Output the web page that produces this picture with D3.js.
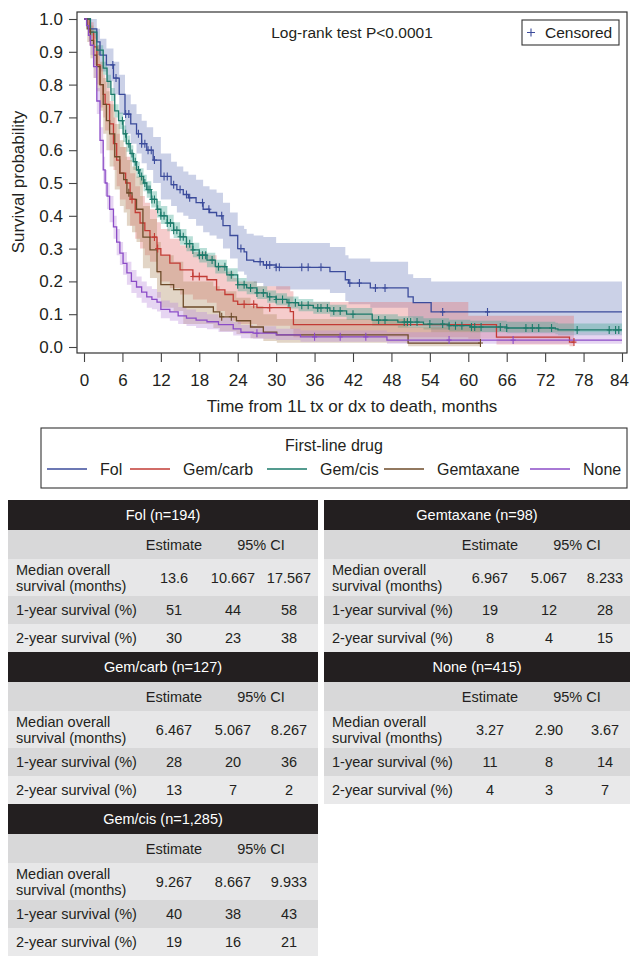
<!DOCTYPE html>
<html lang="en">
<head>
    <meta charset="utf-8">
    <title>First-line drug survival</title>
    <style>
        body{ margin:0; background:#fff; }
        svg text{ font-family:"Liberation Sans", Arial, Helvetica, sans-serif; fill:#231f20; }
    </style>
    <script src="https://cdn.jsdelivr.net/npm/d3@7"></script>
</head>
<body>
<div id="chart"></div>
<script>
    // 组别与颜色
    var groups = ["Fol", "Gem/carb", "Gem/cis", "Gemtaxane", "None"];
    var lineColors = ["#3b4b9b", "#c23b34", "#1b7a6a", "#6e4b2a", "#8b4cc7"];
    var bandColors = ["#6f80bd", "#e27171", "#3ea690", "#b08a60", "#b98bdc"];

    var xTicks = [0, 6, 12, 18, 24, 30, 36, 42, 48, 54, 60, 66, 72, 78, 84];
    var yTicks = [0, 0.1, 0.2, 0.3, 0.4, 0.5, 0.6, 0.7, 0.8, 0.9, 1.0];

    // Fol
    var fol_t  = [0,1,2,2.5,3.5,4.6,5.5,6.4,7.3,8.2,9,9.8,10.8,12,13.6,14.5,15.5,16.3,17.5,18.6,19.6,20.7,21.7,22.8,24,25,25.4,26.5,28,30,38.4,40.8,41.3,44.7,50.6,51.4,54.2,84];
    var fol_s  = [1,0.97,0.93,0.89,0.86,0.82,0.77,0.71,0.68,0.65,0.62,0.60,0.57,0.52,0.495,0.48,0.465,0.455,0.44,0.42,0.41,0.40,0.37,0.34,0.30,0.29,0.265,0.26,0.25,0.243,0.23,0.205,0.195,0.18,0.153,0.135,0.107,0.107];
    var fol_lo = [1,0.94,0.89,0.84,0.81,0.77,0.71,0.65,0.62,0.59,0.56,0.54,0.50,0.45,0.43,0.41,0.40,0.39,0.37,0.35,0.34,0.33,0.30,0.27,0.23,0.22,0.20,0.195,0.185,0.175,0.165,0.14,0.13,0.12,0.09,0.075,0.045,0.045];
    var fol_hi = [1,1,0.97,0.94,0.91,0.87,0.83,0.77,0.74,0.71,0.69,0.67,0.64,0.59,0.565,0.55,0.535,0.525,0.51,0.49,0.48,0.47,0.44,0.41,0.37,0.36,0.345,0.34,0.335,0.317,0.305,0.28,0.27,0.26,0.222,0.21,0.20,0.20];
    var fol_cens = [4.5,5,6.5,7,8.5,9,9.5,10,10.5,11,12.5,13,14,15,16,16.5,18.5,19.5,21.5,24.5,27.5,28.5,29,30,30.5,34,35,37,41.5,43,45.5,47,56,63];

    // Gem/carb
    var gcb_t  = [0,0.8,1.5,2,2.5,3,3.3,4,4.6,5.1,5.6,6.5,7.2,8,8.75,9.5,10.3,11.4,12,13.4,15,17,19.2,20.7,22,23.3,24,27,32.2,32.7,60,64.4,75.8,76.5];
    var gcb_s  = [1,0.96,0.915,0.86,0.80,0.77,0.74,0.68,0.62,0.57,0.53,0.50,0.45,0.41,0.378,0.355,0.335,0.30,0.28,0.256,0.235,0.215,0.205,0.174,0.16,0.14,0.13,0.12,0.108,0.068,0.068,0.03,0.015,0.015];
    var gcb_lo = [1,0.92,0.86,0.80,0.73,0.70,0.66,0.60,0.54,0.49,0.45,0.42,0.37,0.33,0.30,0.28,0.26,0.225,0.20,0.18,0.16,0.145,0.135,0.11,0.095,0.08,0.07,0.065,0.055,0.03,0.025,0.008,0.002,0.002];
    var gcb_hi = [1,0.99,0.96,0.91,0.86,0.83,0.81,0.75,0.70,0.65,0.61,0.58,0.53,0.49,0.46,0.44,0.42,0.38,0.36,0.33,0.31,0.29,0.28,0.25,0.23,0.21,0.20,0.185,0.17,0.137,0.095,0.095,0.095,0.095];
    var gcb_cens = [7.5,11,11.5,17,18,25,26.5,29,76.5];

    // Gem/cis
    var gcs_t  = [0,1,2,3,3.6,4.2,4.8,5.4,6.1,6.6,7.2,7.7,8.2,8.7,9.3,9.8,10.5,11.4,12,13,14,15,16,17,18,19.2,20.5,22.3,24,25.4,27,28.6,30,31.7,33.5,35.8,38.4,41,45,49,53,57,60.3,66,73.6,74,84];
    var gcs_s  = [1,0.96,0.905,0.85,0.81,0.77,0.72,0.69,0.65,0.62,0.59,0.565,0.54,0.52,0.50,0.48,0.45,0.42,0.40,0.378,0.356,0.336,0.315,0.296,0.28,0.265,0.245,0.22,0.19,0.18,0.165,0.153,0.145,0.135,0.127,0.119,0.11,0.10,0.082,0.076,0.07,0.065,0.061,0.058,0.055,0.052,0.052];
    var gcs_lo = [1,0.95,0.89,0.83,0.79,0.75,0.70,0.665,0.625,0.595,0.565,0.54,0.515,0.495,0.475,0.455,0.425,0.395,0.375,0.353,0.332,0.312,0.292,0.274,0.258,0.243,0.224,0.20,0.17,0.161,0.146,0.135,0.127,0.117,0.109,0.101,0.092,0.082,0.065,0.059,0.053,0.048,0.045,0.042,0.039,0.036,0.036];
    var gcs_hi = [1,0.97,0.92,0.87,0.83,0.79,0.74,0.715,0.675,0.645,0.615,0.59,0.565,0.545,0.525,0.505,0.475,0.445,0.43,0.403,0.38,0.36,0.338,0.318,0.302,0.287,0.266,0.24,0.21,0.20,0.185,0.172,0.164,0.154,0.146,0.138,0.129,0.119,0.10,0.094,0.088,0.083,0.08,0.077,0.074,0.072,0.072];
    var gcs_cens = [6,6.5,7,7.5,8,8.5,9,9.5,10,10.3,10.6,11,11.5,12,12.5,13,13.5,14,14.5,15,15.5,16,16.5,17,18,18.5,19,20,21,22,23,24,25,26,27,28,29,30,31,32,33,34,35,36.5,37,38,39,40,42,46,47,50,50.5,51,52,54,56,57,58,59,60.5,61,62,65,66,69,70,71,73,77,82,83,83.5];

    // Gemtaxane
    var gtx_t  = [0,0.5,1,1.5,2,2.5,3,3.5,4,4.8,5.6,6.2,6.7,7.5,8.2,9.2,10.3,11.4,12,14,15.5,20.2,21.2,23.8,26,28,30.1,50.6,61.9];
    var gtx_s  = [1,0.97,0.935,0.89,0.855,0.80,0.74,0.69,0.65,0.58,0.53,0.51,0.47,0.45,0.42,0.335,0.296,0.23,0.19,0.175,0.122,0.107,0.092,0.08,0.061,0.045,0.037,0.012,0.012];
    var gtx_lo = [1,0.93,0.88,0.82,0.78,0.72,0.65,0.60,0.55,0.48,0.43,0.41,0.37,0.35,0.32,0.24,0.21,0.15,0.12,0.11,0.07,0.058,0.048,0.04,0.027,0.018,0.013,0.002,0.002];
    var gtx_hi = [1,1,0.98,0.95,0.92,0.87,0.82,0.78,0.74,0.68,0.63,0.61,0.57,0.55,0.52,0.43,0.39,0.32,0.28,0.26,0.20,0.185,0.17,0.15,0.125,0.10,0.085,0.06,0.06];
    var gtx_cens = [7,21.5,23,61.9];

    // None
    var non_t  = [0,0.4,0.7,1,1.5,2,2.5,3,3.3,3.6,4,4.6,5.1,5.6,6.1,6.7,7.4,8.2,9,9.8,10.6,11.4,12,13.4,14.7,16,17.5,19.2,21,23.3,24.5,26.4,30,33.8,47.3,84];
    var non_s  = [1,0.98,0.95,0.92,0.855,0.75,0.63,0.54,0.50,0.46,0.42,0.366,0.32,0.286,0.255,0.226,0.20,0.183,0.167,0.153,0.145,0.137,0.115,0.107,0.095,0.088,0.082,0.077,0.068,0.055,0.045,0.042,0.037,0.031,0.021,0.021];
    var non_lo = [1,0.97,0.93,0.89,0.82,0.71,0.59,0.50,0.46,0.42,0.38,0.33,0.28,0.25,0.22,0.19,0.165,0.15,0.135,0.12,0.115,0.108,0.088,0.08,0.07,0.064,0.058,0.054,0.046,0.035,0.027,0.025,0.021,0.016,0.01,0.008];
    var non_hi = [1,0.99,0.97,0.95,0.89,0.79,0.67,0.58,0.54,0.50,0.46,0.40,0.36,0.32,0.29,0.26,0.235,0.215,0.20,0.185,0.177,0.168,0.142,0.135,0.122,0.114,0.107,0.1,0.09,0.076,0.067,0.063,0.056,0.05,0.045,0.045];
    var non_cens = [27,36,40,44,57,67];

    // 表格数据
    var tableTitles = ["Fol (n=194)", "Gem/carb (n=127)", "Gem/cis (n=1,285)", "Gemtaxane (n=98)", "None (n=415)"];
    var rowLabels = [["Median overall", "survival (months)"], ["1-year survival (%)"], ["2-year survival (%)"]];
    var fol_tab = [["13.6", "10.667", "17.567"], ["51", "44", "58"], ["30", "23", "38"]];
    var gcb_tab = [["6.467", "5.067", "8.267"], ["28", "20", "36"], ["13", "7", "2"]];
    var gcs_tab = [["9.267", "8.667", "9.933"], ["40", "38", "43"], ["19", "16", "21"]];
    var gtx_tab = [["6.967", "5.067", "8.233"], ["19", "12", "28"], ["8", "4", "15"]];
    var non_tab = [["3.27", "2.90", "3.67"], ["11", "8", "14"], ["4", "3", "7"]];

    var curves = [
        {t: fol_t, s: fol_s, lo: fol_lo, hi: fol_hi, c: fol_cens},
        {t: gcb_t, s: gcb_s, lo: gcb_lo, hi: gcb_hi, c: gcb_cens},
        {t: gcs_t, s: gcs_s, lo: gcs_lo, hi: gcs_hi, c: gcs_cens},
        {t: gtx_t, s: gtx_s, lo: gtx_lo, hi: gtx_hi, c: gtx_cens},
        {t: non_t, s: non_s, lo: non_lo, hi: non_hi, c: non_cens}
    ];
    var tables = [fol_tab, gcb_tab, gcs_tab, gtx_tab, non_tab];

    var svg = d3.select("#chart").append("svg")
        .attr("width", 630)
        .attr("height", 975);

    //  比例尺
    var x = d3.scaleLinear().domain([0, 84]).range([84, 622]);
    var y = d3.scaleLinear().domain([0, 1]).range([347, 19]);
    var frame = {l: 77, r: 627, t: 12, b: 353};

    // 置信带
    var area = d3.area()
        .curve(d3.curveStepAfter)
        .x(function (d) { return x(d[0]); })
        .y0(function (d) { return y(d[1]); })
        .y1(function (d) { return y(d[2]); });
    var line = d3.line()
        .curve(d3.curveStepAfter)
        .x(function (d) { return x(d[0]); })
        .y(function (d) { return y(d[1]); });

    var plot = svg.append("g").attr("class", "plot");
    curves.forEach(function (c, i) {
        var pts = c.t.map(function (t, k) { return [t, c.lo[k], c.hi[k]]; });
        plot.append("path")
            .attr("d", area(pts))
            .attr("fill", bandColors[i])
            .attr("fill-opacity", 0.36)
            .attr("stroke", "none");
    });
    curves.forEach(function (c, i) {
        var pts = c.t.map(function (t, k) { return [t, c.s[k]]; });
        plot.append("path")
            .attr("d", line(pts))
            .attr("fill", "none")
            .attr("stroke", lineColors[i])
            .attr("stroke-width", 1.3);
    });
    // 删失标记
    var bis = d3.bisector(function (d) { return d; }).right;
    curves.forEach(function (c, i) {
        var marks = c.c.map(function (t) {
            var k = Math.max(0, bis(c.t, t) - 1);
            return [t, c.s[k]];
        });
        plot.selectAll(null)
            .data(marks)
            .enter()
            .append("path")
            .attr("d", function (d) {
                var px = x(d[0]), py = y(d[1]);
                return "M" + px + "," + (py - 4) + "V" + (py + 4) + "M" + (px - 2.5) + "," + py + "H" + (px + 2.5);
            })
            .attr("stroke", lineColors[i])
            .attr("stroke-width", 1.1)
            .attr("fill", "none");
    });

    // 外框
    svg.append("rect")
        .attr("x", frame.l).attr("y", frame.t)
        .attr("width", frame.r - frame.l).attr("height", frame.b - frame.t)
        .attr("fill", "none").attr("stroke", "#333").attr("stroke-width", 1.2);

    // 坐标轴
    var yAxis = svg.append("g")
        .attr("transform", "translate(" + frame.l + ",0)")
        .call(d3.axisLeft(y).tickValues(yTicks).tickFormat(d3.format(".1f")).tickSize(8).tickPadding(6));
    var xAxis = svg.append("g")
        .attr("transform", "translate(0," + frame.b + ")")
        .call(d3.axisBottom(x).tickValues(xTicks).tickSize(9).tickPadding(12));
    [xAxis, yAxis].forEach(function (a) {
        a.select(".domain").remove();
        a.selectAll("line").attr("stroke", "#444").attr("stroke-width", 1.1);
        a.selectAll("text").attr("font-size", 17).attr("fill", "#231f20")
            .attr("font-family", "'Liberation Sans', Arial, sans-serif");
    });
    // 最后一个刻度标签贴边，稍微左移
    xAxis.selectAll(".tick").filter(function (d) { return d === 84; })
        .select("text").attr("dx", -3);

    svg.append("text")
        .attr("x", 352).attr("y", 412)
        .attr("text-anchor", "middle").attr("font-size", 17)
        .text("Time from 1L tx or dx to death, months");
    svg.append("text")
        .attr("transform", "translate(24,182) rotate(-90)")
        .attr("text-anchor", "middle").attr("font-size", 17)
        .text("Survival probability");

    svg.append("text")
        .attr("x", 352).attr("y", 38)
        .attr("text-anchor", "middle").attr("font-size", 15.5)
        .text("Log-rank test P<0.0001");

    // 删失图例
    svg.append("rect")
        .attr("x", 522).attr("y", 20).attr("width", 97).attr("height", 25)
        .attr("fill", "#fff").attr("stroke", "#333").attr("stroke-width", 1.1);
    svg.append("path")
        .attr("d", "M527,32.5H535M531,28.5V36.5")
        .attr("stroke", lineColors[0]).attr("stroke-width", 1.1);
    svg.append("text")
        .attr("x", 545).attr("y", 38).attr("font-size", 15.5)
        .text("Censored");

    // 组别图例
    svg.append("rect")
        .attr("x", 41).attr("y", 428).attr("width", 586).attr("height", 60)
        .attr("fill", "none").attr("stroke", "#333").attr("stroke-width", 1.1);
    svg.append("text")
        .attr("x", 334).attr("y", 451)
        .attr("text-anchor", "middle").attr("font-size", 16)
        .text("First-line drug");
    var legendX = [47, 130, 267, 384, 530];
    groups.forEach(function (g, i) {
        svg.append("line")
            .attr("x1", legendX[i]).attr("x2", legendX[i] + 40)
            .attr("y1", 469).attr("y2", 469)
            .attr("stroke", lineColors[i]).attr("stroke-width", 1.3);
        svg.append("text")
            .attr("x", legendX[i] + 53).attr("y", 475)
            .attr("font-size", 16)
            .text(g);
    });

    // 汇总表
    var rowH = [30, 29, 37, 28, 28];
    var blockH = d3.sum(rowH);
    var slots = [
        {x: 8, w: 310, top: 500},
        {x: 8, w: 310, top: 500 + blockH},
        {x: 8, w: 310, top: 500 + 2 * blockH},
        {x: 324, w: 306, top: 500},
        {x: 324, w: 306, top: 500 + blockH}
    ];
    var rowFill = ["#231f20", "#d8d8d9", "#e7e7e8", "#d8d8d9", "#e9e9ea"];
    var colX = {est: 166, lo: 225, hi: 281, ci: 253};
    var fs = 14.5;

    tables.forEach(function (tab, i) {
        var s = slots[i];
        var g = svg.append("g").attr("transform", "translate(" + s.x + "," + s.top + ")");
        var yy = 0;
        var tops = rowH.map(function (h) { var t = yy; yy += h; return t; });
        rowH.forEach(function (h, r) {
            g.append("rect").attr("x", 0).attr("y", tops[r]).attr("width", s.w).attr("height", h)
                .attr("fill", rowFill[r]);
        });
        g.append("text")
            .attr("x", s.w / 2).attr("y", tops[0] + rowH[0] / 2 + 5)
            .attr("text-anchor", "middle").attr("font-size", fs)
            .style("fill", "#fff")
            .text(tableTitles[i]);
        g.append("text")
            .attr("x", colX.est).attr("y", tops[1] + rowH[1] / 2 + 5)
            .attr("text-anchor", "middle").attr("font-size", fs)
            .text("Estimate");
        g.append("text")
            .attr("x", colX.ci).attr("y", tops[1] + rowH[1] / 2 + 5)
            .attr("text-anchor", "middle").attr("font-size", fs)
            .text("95% CI");
        tab.forEach(function (vals, r) {
            var top = tops[r + 2], h = rowH[r + 2];
            var lab = rowLabels[r];
            lab.forEach(function (l, k) {
                g.append("text")
                    .attr("x", 8)
                    .attr("y", top + h / 2 + 5 + (k - (lab.length - 1) / 2) * 16)
                    .attr("font-size", fs)
                    .text(l);
            });
            [colX.est, colX.lo, colX.hi].forEach(function (cx, k) {
                g.append("text")
                    .attr("x", cx).attr("y", top + h / 2 + 5)
                    .attr("text-anchor", "middle").attr("font-size", fs)
                    .text(vals[k]);
            });
        });
    });
</script>
</body>
</html>
